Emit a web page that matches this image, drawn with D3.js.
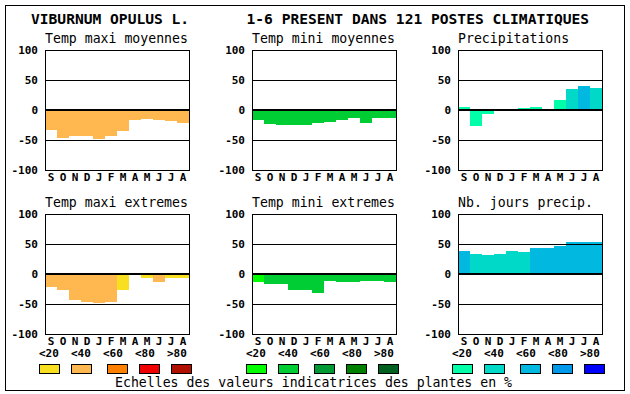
<!DOCTYPE html>
<html>
<head>
<meta charset="utf-8">
<script src="https://cdn.jsdelivr.net/npm/d3@7"></script>
<style>
  body { margin: 0; background: #fff; }
  svg text { font-family: "DejaVu Sans Mono", "Liberation Mono", monospace; }
  rect, line { shape-rendering: crispEdges; }
</style>
</head>
<body>
<div class="chart"></div>
<script>
////////////////////////////////////////////////////////////// 
/////////////////////////// Data /////////////////////////////
//////////////////////////////////////////////////////////////

var species = "VIBURNUM OPULUS L.";
var subtitle = "1-6 PRESENT DANS 121 POSTES CLIMATIQUES";
var months = ["S", "O", "N", "D", "J", "F", "M", "A", "M", "J", "J", "A"];
var yTicks = [100, 50, 0, -50, -100];
var classLabels = ["<20", "<40", "<60", "<80", ">80"];
var footnote = "Echelles des valeurs indicatrices des plantes en %";

var maxiColors = ["#f8e020", "#ffb850", "#ff8000", "#f00000", "#b01000"];
var miniColors = ["#00ff00", "#00cc33", "#009933", "#008000", "#006020"];
var precColors = ["#00ffa8", "#00d8c8", "#00b8e0", "#0098e8", "#0000ff"];

// values per month (S..A) and colour class of each bar
var maxiMoy      = [-33, -46, -44, -44, -48, -44, -35, -17, -15, -17, -18, -21];
var maxiMoyCls   = [1, 1, 1, 1, 1, 1, 1, 1, 1, 1, 1, 1];
var miniMoy      = [-16, -23, -25, -25, -25, -22, -20, -16, -14, -21, -14, -14];
var miniMoyCls   = [1, 1, 1, 1, 1, 1, 1, 1, 1, 1, 1, 1];
var precip       = [5, -27, -6, 0, 2, 3, 5, 0, 17, 35, 40, 37];
var precipCls    = [0, 0, 0, 0, 0, 0, 0, 0, 0, 1, 2, 1];
var maxiExt      = [-21, -26, -44, -47, -48, -47, -26, 0, -7, -14, -6, -7];
var maxiExtCls   = [1, 1, 1, 1, 1, 1, 0, 0, 0, 1, 0, 0];
var miniExt      = [-14, -17, -17, -26, -27, -31, -12, -14, -14, -12, -12, -14];
var miniExtCls   = [0, 1, 1, 1, 1, 1, 1, 1, 1, 1, 1, 1];
var joursPrec    = [38, 34, 31, 34, 38, 36, 44, 44, 46, 53, 53, 54];
var joursPrecCls = [2, 1, 1, 1, 1, 1, 2, 2, 2, 2, 2, 2];

////////////////////////////////////////////////////////////// 
///////////////////// General settings ///////////////////////
//////////////////////////////////////////////////////////////

var width = 630, height = 394;
var plotW = 144, plotH = 120;
var colX = [45, 252, 458];
var rowY = [50, 214];

var panels = [
  {title: "Temp maxi moyennes", values: maxiMoy, cls: maxiMoyCls, colors: maxiColors, col: 0, row: 0},
  {title: "Temp mini moyennes", values: miniMoy, cls: miniMoyCls, colors: miniColors, col: 1, row: 0},
  {title: "Precipitations", values: precip, cls: precipCls, colors: precColors, col: 2, row: 0},
  {title: "Temp maxi extremes", values: maxiExt, cls: maxiExtCls, colors: maxiColors, col: 0, row: 1},
  {title: "Temp mini extremes", values: miniExt, cls: miniExtCls, colors: miniColors, col: 1, row: 1},
  {title: "Nb. jours precip.", values: joursPrec, cls: joursPrecCls, colors: precColors, col: 2, row: 1}
];

var svg = d3.select(".chart").append("svg")
    .attr("width", width)
    .attr("height", height);

//Outer frame
svg.append("rect")
    .attr("x", 5).attr("y", 5)
    .attr("width", 619).attr("height", 385)
    .attr("fill", "none")
    .attr("stroke", "#000");

//Titles
svg.append("text")
    .attr("x", 31).attr("y", 24)
    .style("font-size", "14.6px").style("font-weight", "bold")
    .text(species);

svg.append("text")
    .attr("x", 246.5).attr("y", 24)
    .style("font-size", "14.6px").style("font-weight", "bold")
    .text(subtitle);

////////////////////////////////////////////////////////////// 
///////////////////// Scales & Axes ////////////////////////// 
//////////////////////////////////////////////////////////////

var xScale = d3.scaleBand().domain(d3.range(months.length)).range([0, plotW]).padding(0);
var yScale = d3.scaleLinear().domain([-100, 100]).range([plotH, 0]);

////////////////////////////////////////////////////////////// 
/////////////////////////// Panels ///////////////////////////
//////////////////////////////////////////////////////////////

panels.forEach(function(p) {
  var g = svg.append("g")
      .attr("transform", "translate(" + colX[p.col] + "," + rowY[p.row] + ")");

  g.append("text")
      .attr("x", 0).attr("y", -7)
      .style("font-size", "13.2px")
      .text(p.title);

  //Bars
  g.selectAll(".bar")
      .data(p.values).enter()
      .append("rect")
        .attr("class", "bar")
        .attr("x", function(d, i) { return xScale(i); })
        .attr("y", function(d) { return Math.round(yScale(Math.max(0, d))); })
        .attr("width", xScale.bandwidth())
        .attr("height", function(d) { return Math.round(Math.abs(yScale(d) - yScale(0))); })
        .attr("fill", function(d, i) { return p.colors[p.cls[i]]; });

  //Grid lines at 50 and -50
  g.selectAll(".grid")
      .data([50, -50]).enter()
      .append("line")
        .attr("x1", 0).attr("x2", plotW)
        .attr("y1", function(d) { return Math.round(yScale(d)) + 0.5; })
        .attr("y2", function(d) { return Math.round(yScale(d)) + 0.5; })
        .attr("stroke", "#000");

  //Zero line
  g.append("line")
      .attr("x1", 0).attr("x2", plotW)
      .attr("y1", yScale(0)).attr("y2", yScale(0))
      .attr("stroke", "#000").attr("stroke-width", 2);

  //Frame
  g.append("rect")
      .attr("x", 0).attr("y", 0)
      .attr("width", plotW).attr("height", plotH)
      .attr("fill", "none").attr("stroke", "#000");

  //y tick labels
  g.selectAll(".ytick")
      .data(yTicks).enter()
      .append("text")
        .attr("x", -7)
        .attr("y", function(d) { return yScale(d); })
        .attr("dy", "0.36em")
        .attr("text-anchor", "end")
        .style("font-size", "11px").style("font-weight", "bold")
        .text(function(d) { return d; });

  //Month labels
  g.selectAll(".month")
      .data(months).enter()
      .append("text")
        .attr("x", function(d, i) { return xScale(i) + xScale.bandwidth() / 2; })
        .attr("y", plotH + 11)
        .attr("text-anchor", "middle")
        .style("font-size", "11px").style("font-weight", "bold")
        .text(function(d) { return d; });
});

////////////////////////////////////////////////////////////// 
////////////////////// Color Legend ////////////////////////// 
////////////////////////////////////////////////////////////// 

var legendOffsets = [0, 32, 68, 100, 132];
var labelOffsets = [0, 32, 64, 96, 128];
[maxiColors, miniColors, precColors].forEach(function(colors, c) {
  var lg = svg.append("g")
      .attr("transform", "translate(" + (colX[c] - 6) + ",0)");

  lg.selectAll(".lbl")
      .data(classLabels).enter()
      .append("text")
        .attr("x", function(d, i) { return labelOffsets[i]; })
        .attr("y", 357)
        .style("font-size", "11px").style("font-weight", "bold")
        .text(function(d) { return d; });

  lg.selectAll(".box")
      .data(colors).enter()
      .append("rect")
        .attr("x", function(d, i) { return legendOffsets[i]; })
        .attr("y", 364)
        .attr("width", 20).attr("height", 9)
        .attr("fill", function(d) { return d; })
        .attr("stroke", "#000");
});

svg.append("text")
    .attr("x", 115).attr("y", 387)
    .style("font-size", "13.2px")
    .text(footnote);
</script>
</body>
</html>
